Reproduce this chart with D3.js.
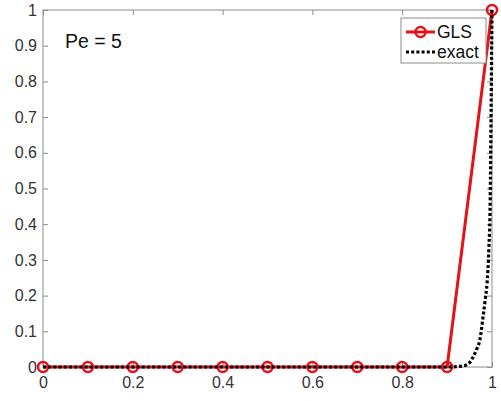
<!DOCTYPE html>
<html>
<head>
<meta charset="utf-8">
<script src="https://cdn.jsdelivr.net/npm/d3@7"></script>
<style>
  html, body { margin: 0; padding: 0; background: #fff; }
  svg { display: block; font-family: "Liberation Sans", Arial, Helvetica, sans-serif; }
</style>
</head>
<body>
<svg id="chart" width="501" height="401"></svg>
<script>
// GLS nodal solution on a uniform mesh (h = 0.1)
const glsX = [0, 0.1, 0.2, 0.3, 0.4, 0.5, 0.6, 0.7, 0.8, 0.9, 1.0];
const glsY = [0, 0, 0, 0, 0, 0, 0, 0, 0, 0, 1];

// exact solution sampled along the boundary layer
const exactX = [0, 0.5, 0.9, 0.935, 0.95, 0.958, 0.966, 0.973, 0.98, 0.985, 0.989, 0.993, 0.996, 0.998, 1.0];
const exactY = [0, 0, 0, 0.003, 0.012, 0.028, 0.05, 0.076, 0.14, 0.19, 0.235, 0.33, 0.47, 0.72, 1.0];

const xTicks = [0, 0.2, 0.4, 0.6, 0.8, 1];
const yTicks = [0, 0.1, 0.2, 0.3, 0.4, 0.5, 0.6, 0.7, 0.8, 0.9, 1];
const seriesNames = ["GLS", "exact"];
const annotation = "Pe = 5";

const svg = d3.select("#chart");
const plotL = 43, plotR = 492, plotT = 10, plotB = 367;

const x = d3.scaleLinear().domain([0, 1]).range([plotL, plotR]);
const y = d3.scaleLinear().domain([0, 1]).range([plotB, plotT]);

const axisColor = "#8c8c8c";
const labelColor = "#333";
const red = "#e3121b";

// frame
svg.append("rect")
  .attr("x", plotL).attr("y", plotT)
  .attr("width", plotR - plotL).attr("height", plotB - plotT)
  .attr("fill", "none").attr("stroke", axisColor).attr("stroke-width", 1);

function styleAxis(g, showLabels) {
  g.select(".domain").remove();
  g.selectAll(".tick line").attr("stroke", axisColor);
  g.selectAll(".tick text")
    .attr("fill", showLabels ? labelColor : "none")
    .style("font-size", "16px");
}

// bottom / top axes (ticks pointing inward)
svg.append("g").attr("transform", `translate(0,${plotB})`)
  .call(d3.axisBottom(x).tickValues(xTicks).tickSizeInner(-5).tickSizeOuter(0).tickPadding(10).tickFormat(d3.format("")))
  .call(g => styleAxis(g, true));
svg.append("g").attr("transform", `translate(0,${plotT})`)
  .call(d3.axisTop(x).tickValues(xTicks).tickSizeInner(-5).tickSizeOuter(0).tickFormat(""))
  .call(g => styleAxis(g, false));

// left / right axes
svg.append("g").attr("transform", `translate(${plotL},0)`)
  .call(d3.axisLeft(y).tickValues(yTicks).tickSizeInner(-5).tickSizeOuter(0).tickPadding(6).tickFormat(d3.format("")))
  .call(g => styleAxis(g, true));
svg.append("g").attr("transform", `translate(${plotR},0)`)
  .call(d3.axisRight(y).tickValues(yTicks).tickSizeInner(-5).tickSizeOuter(0).tickFormat(""))
  .call(g => styleAxis(g, false));

const line = d3.line().x(d => x(d[0])).y(d => y(d[1]));

// GLS line with circle markers
const glsData = glsX.map((v, i) => [v, glsY[i]]);
svg.append("path").datum(glsData)
  .attr("d", line).attr("fill", "none")
  .attr("stroke", red).attr("stroke-width", 3).attr("stroke-linejoin", "round");
svg.append("g").selectAll("circle").data(glsData).join("circle")
  .attr("cx", d => x(d[0])).attr("cy", d => y(d[1])).attr("r", 5)
  .attr("fill", "none").attr("stroke", red).attr("stroke-width", 2.5);

// exact solution, dotted black
const exactData = exactX.map((v, i) => [v, exactY[i]]);
svg.append("path").datum(exactData)
  .attr("d", d3.line().x(d => x(d[0])).y(d => y(d[1])).curve(d3.curveMonotoneX))
  .attr("fill", "none").attr("stroke", "#000").attr("stroke-width", 3.2)
  .attr("stroke-dasharray", "3,2.2");

// annotation
svg.append("text").attr("x", 65).attr("y", 48)
  .attr("fill", "#111").style("font-size", "19.5px").text(annotation);

// legend
const lg = svg.append("g");
lg.append("rect").attr("x", 401).attr("y", 18).attr("width", 85).attr("height", 45)
  .attr("fill", "#fff").attr("stroke", axisColor).attr("stroke-width", 1);
const ly = [32, 52];
lg.append("line").attr("x1", 406).attr("x2", 435).attr("y1", ly[0]).attr("y2", ly[0])
  .attr("stroke", red).attr("stroke-width", 3);
lg.append("circle").attr("cx", 420.5).attr("cy", ly[0]).attr("r", 5)
  .attr("fill", "none").attr("stroke", red).attr("stroke-width", 2.5);
lg.append("line").attr("x1", 406).attr("x2", 435).attr("y1", ly[1]).attr("y2", ly[1])
  .attr("stroke", "#000").attr("stroke-width", 3.2).attr("stroke-dasharray", "3,2.2");
lg.selectAll("text.entry").data(seriesNames).join("text").attr("class", "entry")
  .attr("x", 437).attr("y", (d, i) => ly[i] + 6)
  .attr("fill", "#111").style("font-size", "17.5px").text(d => d);
</script>
</body>
</html>
